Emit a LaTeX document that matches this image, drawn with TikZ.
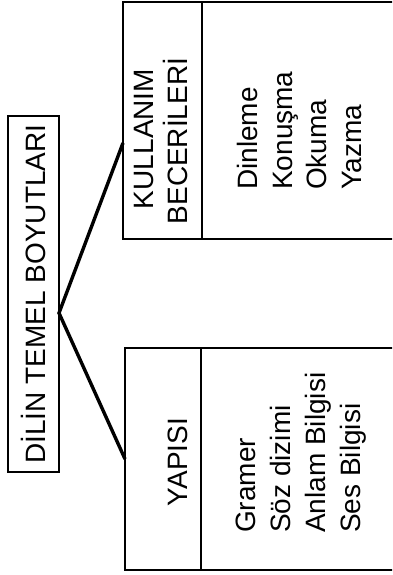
\documentclass[tikz,border=0pt]{standalone}
\usepackage{fontspec}
\setmainfont{Liberation Sans}
\begin{document}
\begin{tikzpicture}[x=1pt,y=-1pt,
  cell/.style={draw, line width=2.8pt, inner sep=0pt, outer sep=0pt},
  vtext/.style={rotate=90, inner sep=0pt, font=\fontsize{28}{34}\selectfont},
  link/.style={line width=3.4pt}]
  \useasboundingbox (0,0) rectangle (392,575);
  \fill[white] (0,0) rectangle (392,575);
  \clip (0,0) rectangle (392,575);

  % root box
  \node[cell, minimum width=51pt, minimum height=356pt] (root) at (33.5,294)
    {\fontsize{28}{34}\selectfont\rotatebox{90}{DİLİN TEMEL BOYUTLARI}};

  % upper branch: usage skills
  \node[cell, minimum width=79pt, minimum height=237pt] (ub) at (162.5,120.5) {};
  \node[cell, minimum width=208pt, minimum height=237pt, anchor=west] (ubc) at (ub.east) {};
  \node[vtext, anchor=base] (kul1) at (153,139) {KULLANIM};
  \node[vtext, anchor=base] (kul2) at (187,141) {BECERİLERİ};
  \node[vtext, anchor=base west] (u1) at (257,190) {Dinleme};
  \node[vtext, anchor=base west] (u2) at (292,190) {Konuşma};
  \node[vtext, anchor=base west] (u3) at (326,190) {Okuma};
  \node[vtext, anchor=base west] (u4) at (361,190) {Yazma};

  % lower branch: structure
  \node[cell, minimum width=76pt, minimum height=222pt] (lb) at (163,459) {};
  \node[cell, minimum width=208pt, minimum height=222pt, anchor=west] (lbc) at (lb.east) {};
  \node[vtext, anchor=base] (yap) at (187,462) {YAPISI};
  \node[vtext, anchor=base west] (l1) at (255,533) {Gramer};
  \node[vtext, anchor=base west] (l2) at (290,533) {Söz dizimi};
  \node[vtext, anchor=base west] (l3) at (325,533) {Anlam Bilgisi};
  \node[vtext, anchor=base west] (l4) at (360,533) {Ses Bilgisi};

  % connectors (y grows downward, so a negative shift moves down)
  \coordinate (apex) at ([yshift=-19pt]root.east);
  \draw[link] ([yshift=-22.5pt]ub.west) -- (apex) -- (lb.west);
\end{tikzpicture}
\end{document}
